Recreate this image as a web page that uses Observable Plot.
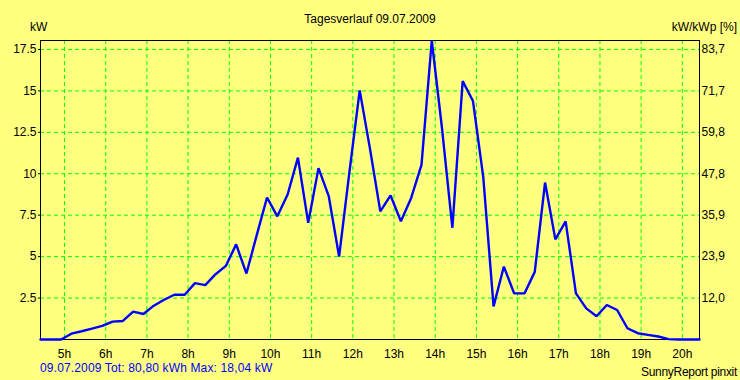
<!DOCTYPE html>
<html><head><meta charset="utf-8">
<script src="https://cdn.jsdelivr.net/npm/d3@7"></script>
<script src="https://cdn.jsdelivr.net/npm/@observablehq/plot@0.6"></script>
<style>
body{margin:0;background:#FFFF80;}
#wrap{position:relative;width:740px;height:380px;font-family:"Liberation Sans",Arial,sans-serif;font-size:12px;color:#000;}
#wrap svg{position:absolute;left:0;top:0;}
.t{position:absolute;white-space:nowrap;line-height:14px;}
</style></head><body>
<div id="wrap"></div>
<script>
// ---- data ----
const times = ["4:25","4:40","4:55","5:10","5:25","5:40","5:55","6:10","6:25","6:40","6:55",
  "7:10","7:25","7:40","7:55","8:10","8:25","8:40","8:55","9:10","9:25","9:40","9:55",
  "10:10","10:25","10:40","10:55","11:10","11:25","11:40","11:55","12:10","12:25","12:40","12:55",
  "13:10","13:25","13:40","13:55","14:10","14:25","14:40","14:55","15:10","15:25","15:40","15:55",
  "16:10","16:25","16:40","16:55","17:10","17:25","17:40","17:55","18:10","18:25","18:40","18:55",
  "19:10","19:25","19:40","19:55","20:10","20:25"];
const kw = [0,0,0,0.35,0.5,0.66,0.82,1.08,1.12,1.68,1.54,
  2.04,2.4,2.7,2.7,3.4,3.28,3.94,4.44,5.74,3.98,6.3,8.57,
  7.43,8.75,10.97,7.04,10.34,8.63,5.0,10.1,15.03,11.5,7.73,8.69,
  7.13,8.54,10.53,18.04,12.7,6.74,15.59,14.39,9.8,2.0,4.4,2.78,
  2.78,4.08,9.47,6.04,7.13,2.78,1.88,1.4,2.08,1.78,0.68,0.38,
  0.28,0.18,0.02,0,0,0];
const hourTicks = [5,6,7,8,9,10,11,12,13,14,15,16,17,18,19,20];
const hourLabels = ["5h","6h","7h","8h","9h","10h","11h","12h","13h","14h","15h","16h","17h","18h","19h","20h"];
const kwTicks = [2.5,5,7.5,10,12.5,15,17.5];
const kwLabels = ["2.5","5","7.5","10","12.5","15","17.5"];
const pctLabels = ["12,0","23,9","35,9","47,8","59,8","71,7","83,7"];
const xDomain = ["4:25","20:25"];
const yMax = 18.04;
const title = "Tagesverlauf 09.07.2009";
const yLeftTitle = "kW";
const yRightTitle = "kW/kWp [%]";
const footerLeft = "09.07.2009 Tot: 80,80 kWh Max: 18,04 kW";
const footerRight = "SunnyReport pinxit";

// ---- build ----
const toH = s => { const [h,m] = s.split(":").map(Number); return h + m/60; };
const data = times.map((t,i) => ({t: toH(t), v: kw[i]}));
const hourLab = new Map(hourTicks.map((h,i)=>[h,hourLabels[i]]));
const kwLab = new Map(kwTicks.map((k,i)=>[k,kwLabels[i]]));
const pctLab = new Map(kwTicks.map((k,i)=>[k,pctLabels[i]]));
const green = "#00FF00";

const chart = Plot.plot({
  width: 740, height: 380,
  marginTop: 40, marginBottom: 41, marginLeft: 40, marginRight: 41,
  style: {background:"transparent", fontFamily:'"Liberation Sans", Arial, sans-serif', fontSize:"12px", color:"#000", overflow:"visible"},
  x: {domain: xDomain.map(toH), label: null},
  y: {domain: [0, yMax], label: null},
  marks: [
    Plot.gridX(hourTicks, {stroke: green, strokeOpacity: 1, strokeDasharray: "4,3"}),
    Plot.gridY(kwTicks, {stroke: green, strokeOpacity: 1, strokeDasharray: "4,3"}),
    Plot.axisX(hourTicks, {tickSize: 0, tickPadding: 10, tickFormat: d => hourLab.get(d), label: null}),
    Plot.axisY(kwTicks, {anchor: "left", tickSize: 2, tickPadding: 2, tickFormat: d => kwLab.get(d), label: null}),
    Plot.axisY(kwTicks, {anchor: "right", tickSize: 0, tickPadding: 2, tickFormat: d => pctLab.get(d), label: null}),
    Plot.frame({stroke: "#000", strokeWidth: 1}),
    Plot.line(data, {x: "t", y: "v", stroke: "#0000FF", strokeWidth: 2.4, strokeLinejoin: "miter"})
  ]
});
const wrap = document.getElementById("wrap");
wrap.appendChild(chart);
function addText(txt, css){ const d=document.createElement("div"); d.className="t"; d.textContent=txt; d.style.cssText+=css; wrap.appendChild(d); }
addText(title, "left:0;width:740px;text-align:center;top:12px;");
addText(yLeftTitle, "left:30px;top:20px;");
addText(yRightTitle, "right:3px;top:20px;");
addText(footerLeft, "left:40px;top:361px;color:#0000FF;letter-spacing:0.15px;");
addText(footerRight, "right:3px;top:365px;letter-spacing:-0.3px;");
</script>
</body></html>
